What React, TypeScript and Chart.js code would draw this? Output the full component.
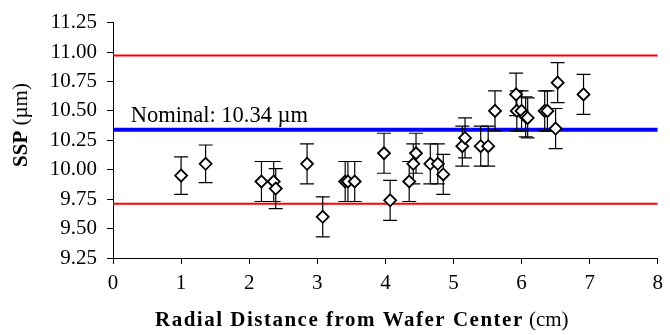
import React, { useEffect, useRef } from "react";
import { Chart, registerables } from "chart.js";

Chart.register(...registerables);

// Radial position of each measured site (cm)
const radialCm = [
  1.0, 1.36, 2.18, 2.36, 2.39, 2.85, 3.08, 3.41, 3.45, 3.55, 3.98, 4.07, 4.35,
  4.41, 4.45, 4.66, 4.77, 4.85, 5.13, 5.17, 5.4, 5.51, 5.61, 5.92, 5.93, 6.0,
  6.06, 6.09, 6.34, 6.38, 6.5, 6.53, 6.91,
];
// Measured SSP (µm)
const sspUm = [
  9.95, 10.05, 9.9, 9.9, 9.84, 10.05, 9.6, 9.9, 9.9, 9.9, 10.14, 9.74, 9.9,
  10.05, 10.14, 10.05, 10.05, 9.96, 10.2, 10.27, 10.2, 10.2, 10.5, 10.64, 10.5,
  10.5, 10.45, 10.44, 10.5, 10.5, 10.35, 10.74, 10.64,
];
// Symmetric measurement uncertainty (µm)
const sspErr = [
  0.16, 0.16, 0.17, 0.17, 0.17, 0.17, 0.17, 0.17, 0.17, 0.17, 0.17, 0.17, 0.17,
  0.17, 0.17, 0.17, 0.17, 0.17, 0.17, 0.17, 0.17, 0.17, 0.17, 0.18, 0.17, 0.17,
  0.17, 0.17, 0.17, 0.17, 0.17, 0.17, 0.17,
];

const nominal = 10.34;
const tolerance = 0.63;
const xRange = [0, 8];
const yRange = [9.25, 11.25];
const yStep = 0.25;
const xStep = 1;

const SERIF = '"Liberation Serif", "Times New Roman", serif';

const errorBarPlugin = {
  id: "errorBars",
  beforeDatasetDraw(chart: any, args: any) {
    if (args.index !== 0) return;
    const xs = chart.scales.x;
    const ys = chart.scales.y;
    const ctx = chart.ctx;
    ctx.save();
    ctx.strokeStyle = "#000";
    ctx.lineWidth = 1.2;
    const cap = 7;
    for (let i = 0; i < radialCm.length; i++) {
      const px = xs.getPixelForValue(radialCm[i]);
      const top = ys.getPixelForValue(sspUm[i] + sspErr[i]);
      const bot = ys.getPixelForValue(sspUm[i] - sspErr[i]);
      ctx.beginPath();
      ctx.moveTo(px, top);
      ctx.lineTo(px, bot);
      ctx.moveTo(px - cap, top);
      ctx.lineTo(px + cap, top);
      ctx.moveTo(px - cap, bot);
      ctx.lineTo(px + cap, bot);
      ctx.stroke();
    }
    ctx.restore();
  },
};

const labelsPlugin = {
  id: "axisTitlesAndNote",
  afterDraw(chart: any) {
    const ctx = chart.ctx;
    const xs = chart.scales.x;
    const ys = chart.scales.y;
    ctx.save();
    ctx.fillStyle = "#000";
    ctx.textBaseline = "alphabetic";

    // Nominal annotation above the blue line
    ctx.font = `22.5px ${SERIF}`;
    ctx.textAlign = "left";
    ctx.fillText(
      "Nominal: 10.34 µm",
      xs.getPixelForValue(0.26),
      ys.getPixelForValue(nominal) - 8
    );

    // X axis title: bold part + normal unit
    const boldX = "Radial Distance from Wafer Center";
    const unitX = " (cm)";
    const startX = 155;
    ctx.font = `bold 21px ${SERIF}`;
    (ctx as any).letterSpacing = "1.5px";
    const wBold = ctx.measureText(boldX).width;
    ctx.fillText(boldX, startX, 326);
    ctx.font = `21px ${SERIF}`;
    (ctx as any).letterSpacing = "0px";
    ctx.fillText(unitX, startX + wBold, 326);

    // Y axis title, rotated
    const boldY = "SSP";
    const unitY = " (µm)";
    ctx.translate(27, 125);
    ctx.rotate(-Math.PI / 2);
    ctx.font = `bold 21px ${SERIF}`;
    const wb = ctx.measureText(boldY).width;
    ctx.font = `21px ${SERIF}`;
    const wu = ctx.measureText(unitY).width;
    const start = -(wb + wu) / 2;
    ctx.font = `bold 21px ${SERIF}`;
    ctx.fillText(boldY, start, 0);
    ctx.font = `21px ${SERIF}`;
    ctx.fillText(unitY, start + wb, 0);
    ctx.restore();
  },
};

export default function App() {
  const canvasRef = useRef<HTMLCanvasElement>(null);

  useEffect(() => {
    document.body.style.margin = "0";
    const canvas = canvasRef.current;
    if (!canvas) return;

    const points = radialCm.map((x, i) => ({ x, y: sspUm[i] }));
    const hLine = (y: number) => [
      { x: xRange[0], y },
      { x: xRange[1], y },
    ];

    const chart = new Chart(canvas, {
      type: "scatter",
      data: {
        datasets: [
          {
            label: "SSP",
            data: points,
            pointStyle: "rectRot",
            pointRadius: 6,
            pointBorderWidth: 1.8,
            pointBorderColor: "#000",
            pointBackgroundColor: "#fff",
            showLine: false,
            order: 0,
          },
          {
            label: "Nominal",
            data: hLine(nominal),
            showLine: true,
            borderColor: "#0000ff",
            borderWidth: 4,
            pointRadius: 0,
            order: 1,
          },
          {
            label: "Upper limit",
            data: hLine(nominal + tolerance),
            showLine: true,
            borderColor: "#ff0000",
            borderWidth: 2,
            pointRadius: 0,
            order: 2,
          },
          {
            label: "Lower limit",
            data: hLine(nominal - tolerance),
            showLine: true,
            borderColor: "#ff0000",
            borderWidth: 2,
            pointRadius: 0,
            order: 2,
          },
        ],
      },
      options: {
        animation: false,
        responsive: true,
        maintainAspectRatio: false,
        layout: { padding: { top: 15, right: 6.5, left: 0, bottom: 0 } },
        plugins: {
          legend: { display: false },
          tooltip: { enabled: false },
        },
        scales: {
          x: {
            type: "linear",
            min: xRange[0],
            max: xRange[1],
            afterFit: (s: any) => {
              s.height = 77;
            },
            ticks: {
              stepSize: xStep,
              color: "#000",
              padding: 7,
              maxRotation: 0,
              font: { family: SERIF, size: 21 },
            },
            grid: {
              drawOnChartArea: false,
              drawTicks: true,
              tickLength: 6,
              color: "#000",
            },
            border: { display: true, color: "#000", width: 1 },
          },
          y: {
            type: "linear",
            min: yRange[0],
            max: yRange[1],
            afterFit: (s: any) => {
              s.width = 113;
            },
            ticks: {
              stepSize: yStep,
              color: "#000",
              padding: 10,
              font: { family: SERIF, size: 21 },
              callback: (v: any) => Number(v).toFixed(2),
            },
            grid: {
              drawOnChartArea: false,
              drawTicks: true,
              tickLength: 6,
              color: "#000",
            },
            border: { display: true, color: "#000", width: 1 },
          },
        },
      },
      plugins: [errorBarPlugin, labelsPlugin],
    });

    return () => chart.destroy();
  }, []);

  return (
    <div style={{ position: "fixed", left: 0, top: 0, width: 670, height: 335 }}>
      <canvas ref={canvasRef} />
    </div>
  );
}
